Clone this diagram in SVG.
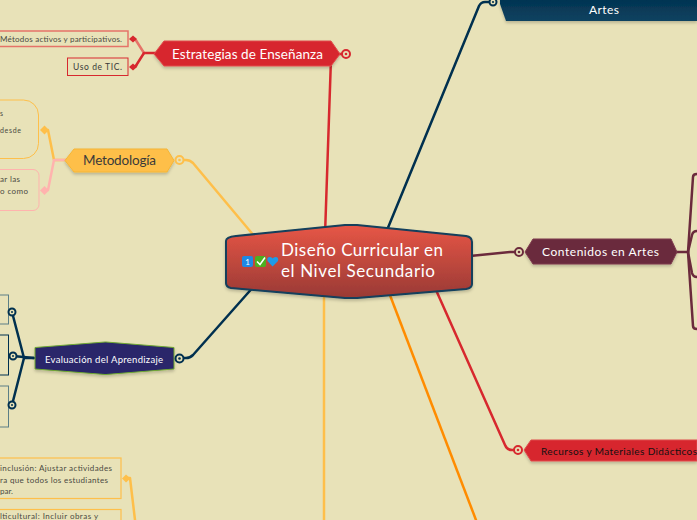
<svg xmlns="http://www.w3.org/2000/svg" width="697" height="520" viewBox="0 0 697 520">
<defs>
<linearGradient id="cg" x1="0" y1="0" x2="0" y2="1"><stop offset="0" stop-color="#e75646"/><stop offset="1" stop-color="#993a35"/></linearGradient>
<linearGradient id="ag" x1="0" y1="0" x2="0" y2="1"><stop offset="0.5" stop-color="#00304f"/><stop offset="1" stop-color="#0f4360"/></linearGradient>
<filter id="sh" x="-10%" y="-20%" width="120%" height="150%"><feDropShadow dx="0" dy="2" stdDeviation="1.5" flood-color="#000" flood-opacity="0.2"/></filter>
</defs>
<style>
text{font-family:"Lato","Noto Sans",sans-serif}
.l{fill:none;stroke-width:2.5;stroke-linecap:round;stroke-linejoin:round}
.s{font-size:8px;fill:#4a4a42}
.w{fill:#fff}
.ring{fill:#e8e2b8;stroke-width:2}
</style>
<rect width="697" height="520" fill="#e8e2b8"/>
<g id="connectors">
<path class="l" stroke="#d7282e" d="M345 54H335Q331 54 331 58L325 235"/>
<path class="l" stroke="#febf4a" d="M180 160H186Q190 160 193 163L255 237"/>
<path class="l" stroke="#00304f" d="M180 358H186Q190 358 193 355L255 285"/>
<path class="l" stroke="#00304f" d="M493 2H485Q481 2 479 6L385 235"/>
<path class="l" stroke="#6b2a3c" d="M519 252H510L470 256"/>
<path class="l" stroke="#d7282e" d="M518 450H512Q507 450 505 445L436 290"/>
<path class="l" stroke="#ff8c00" d="M388 290L476 520"/>
<path class="l" stroke="#febf4a" d="M324 295V520"/>
<path class="l" stroke="#d7282e" d="M155 53H144"/>
<path class="l" stroke="#e57368" d="M144 53L137 42Q136 39 133 39"/>
<path class="l" stroke="#d7282e" d="M144 53L137 64Q136 67 133 67"/>
<path class="l" stroke="#febf4a" d="M66 160H54L48 130"/>
<path class="l" stroke="#ffb3ae" d="M66 160H54L48 190"/>
<path class="l" stroke="#00304f" d="M34 358H24L12 312"/>
<path class="l" stroke="#00304f" d="M34 358L13 356"/>
<path class="l" stroke="#00304f" d="M24 358L12 405"/>
<path class="l" stroke="#febf4a" d="M135 520L130 478H126"/>
<path class="l" stroke="#6b2a3c" d="M677 252H688"/>
<path class="l" stroke="#6b2a3c" d="M688 252L693 177Q693 174 697 174"/>
<path class="l" stroke="#6b2a3c" d="M688 252L692 235Q693 231 697 231"/>
<path class="l" stroke="#6b2a3c" d="M688 252L692 273Q693 277 697 277"/>
<path class="l" stroke="#6b2a3c" d="M688 252L693 326Q693 329 697 329"/>
</g>
<g id="n-central">
<path d="M236 236L345 225H357L466 236Q472 237 472 242V284Q472 288 466 289L357 298H345L231 288Q226 287 226 283V241Q226 237 236 236Z" fill="url(#cg)" stroke="#123f5c" stroke-width="2" filter="url(#sh)"/>
<rect x="242" y="256" width="11" height="11" rx="2" fill="#1e88e5"/>
<text x="247.500" y="265" font-size="8" class="w" text-anchor="middle">1</text>
<rect x="255" y="256" width="11" height="11" rx="2" fill="#4caf20"/>
<path d="M257 261.500L260 264.500L265 257.500" fill="none" stroke="#fff" stroke-width="1.500"/>
<path d="M272.500 266.500L267.500 261Q266.500 257 270 257Q272 257 272.500 258.500Q273.500 257 275.500 257Q279 257 278 261Z" fill="#1e9be8"/>
<text x="281" y="256" font-size="17" class="w" textLength="162">Diseño Curricular en</text>
<text x="281" y="277" font-size="17" class="w" textLength="154">el Nivel Secundario</text>
</g>
<g id="n-estrategias">
<path d="M164 41H331L340 54L331 66H164L154 54Z" fill="#d7282e" stroke="#e04a4a" filter="url(#sh)"/>
<text x="172" y="59" font-size="13.500" class="w" textLength="151">Estrategias de Enseñanza</text>
<circle cx="346" cy="54" r="4" class="ring" stroke="#d7282e"/><circle cx="346" cy="54" r="1.300" fill="#d7282e"/>
</g>
<g id="n-metodos">
<rect x="-4" y="31" width="132" height="15.500" fill="none" stroke="#e57368" stroke-width="1.500"/>
<text x="0" y="42" class="s" textLength="122">Métodos activos y participativos.</text>
<path d="M129 39L133 35.500L137 39L133 42.500Z" fill="#d7282e"/>
</g>
<g id="n-tic">
<rect x="67.500" y="58" width="60.500" height="17.500" fill="none" stroke="#d7282e" stroke-width="1"/>
<text x="73" y="70" font-size="8.500" fill="#3a3a3a" textLength="49">Uso de TIC.</text>
<path d="M129 67L133 63.500L137 67L133 70.500Z" fill="#d7282e"/>
</g>
<g id="n-metodologia">
<path d="M74 149H167L174 160.500L167 172H74L65 160.500Z" fill="#febf4a" stroke="#f5b535" filter="url(#sh)"/>
<text x="83" y="165" font-size="13.500" fill="#3a3a3a" textLength="73">Metodología</text>
<circle cx="179.500" cy="160" r="4" class="ring" stroke="#febf4a"/><circle cx="179.500" cy="160" r="1.300" fill="#febf4a"/>
</g>
<g id="n-met1">
<rect x="-40" y="100" width="78.500" height="58.500" rx="15" fill="none" stroke="#febf4a"/>
<text x="0" y="116" font-size="7" fill="#4a4a42">s</text>
<text x="0" y="133" font-size="7" fill="#4a4a42" textLength="21">desde</text>
<path d="M40 130L44.500 125.500L49 130L44.500 134.500Z" fill="#febf4a"/>
</g>
<g id="n-met2">
<rect x="-40" y="169.500" width="79" height="41" rx="6" fill="none" stroke="#ffb3ae"/>
<text x="0" y="182" font-size="8" fill="#4a4a42" textLength="20">ar las</text>
<text x="0" y="194" font-size="8" fill="#4a4a42" textLength="28">o como</text>
<path d="M40 190.500L44.500 186L49 190.500L44.500 195Z" fill="#ffb3ae"/>
</g>
<g id="n-evaluacion">
<path d="M35 347.500L105 342H106L174 347.500V369L106 374.500H105L35 369Z" fill="#29256b" stroke="#6fa832" filter="url(#sh)"/>
<text x="45" y="363" font-size="9.500" class="w" textLength="118">Evaluación del Aprendizaje</text>
<circle cx="179.500" cy="358.500" r="4" class="ring" stroke="#00304f"/><circle cx="179.500" cy="358.500" r="1.300" fill="#00304f"/>
</g>
<g id="n-ev1">
<rect x="-5" y="295" width="13.500" height="29" fill="none" stroke="#5c7f86"/>
<circle cx="12" cy="312" r="3.500" class="ring" stroke="#00304f"/><circle cx="12" cy="312" r="1" fill="#00304f"/>
</g>
<g id="n-ev2">
<rect x="-5" y="335" width="13.500" height="40" fill="none" stroke="#00304f"/>
<circle cx="13" cy="356" r="3.500" class="ring" stroke="#00304f"/><circle cx="13" cy="356" r="1" fill="#00304f"/>
</g>
<g id="n-ev3">
<rect x="-5" y="386" width="13.500" height="41" fill="none" stroke="#5c7f86"/>
<circle cx="12" cy="405" r="3.500" class="ring" stroke="#00304f"/><circle cx="12" cy="405" r="1" fill="#00304f"/>
</g>
<g id="n-inclusion">
<rect x="-5" y="458" width="126" height="40.500" fill="none" stroke="#febf4a" stroke-width="1.200"/>
<text x="0" y="471" class="s" textLength="112">inclusión: Ajustar actividades</text>
<text x="0" y="483" class="s" textLength="108">ra que todos los estudiantes</text>
<text x="0" y="494" class="s">par.</text>
<path d="M122 478.500L126 474.500L130.500 478.500L126 482.500Z" fill="#febf4a"/>
</g>
<g id="n-multicultural">
<rect x="-5" y="509.500" width="126" height="20" fill="none" stroke="#febf4a" stroke-width="1.200"/>
<text x="0" y="519" class="s" textLength="98">lticultural: Incluir obras y</text>
</g>
<g id="n-artes">
<path d="M500 -30H697V21H506L500 4Z" fill="url(#ag)" filter="url(#sh)"/>
<text x="589" y="14" font-size="12" class="w" textLength="30">Artes</text>
<circle cx="493" cy="2" r="3.500" class="ring" stroke="#00304f"/><circle cx="493" cy="2" r="1.100" fill="#00304f"/>
</g>
<g id="n-contenidos">
<path d="M533 239H671L677 252L671 264H533L525 252Z" fill="#6b2a3c" stroke="#7d3a4d" filter="url(#sh)"/>
<text x="542" y="256" font-size="12" class="w" textLength="117">Contenidos en Artes</text>
<circle cx="519" cy="252" r="4" class="ring" stroke="#6b2a3c"/><circle cx="519" cy="252" r="1.300" fill="#6b2a3c"/>
</g>
<g id="n-recursos">
<path d="M531 440H697V461H531L524 450Z" fill="#d7282e" stroke="#e04a4a" filter="url(#sh)"/>
<text x="541" y="455" font-size="10" fill="#111" textLength="156">Recursos y Materiales Didácticos</text>
<circle cx="518" cy="450" r="4" class="ring" stroke="#d7282e"/><circle cx="518" cy="450" r="1.300" fill="#d7282e"/>
</g>
</svg>
